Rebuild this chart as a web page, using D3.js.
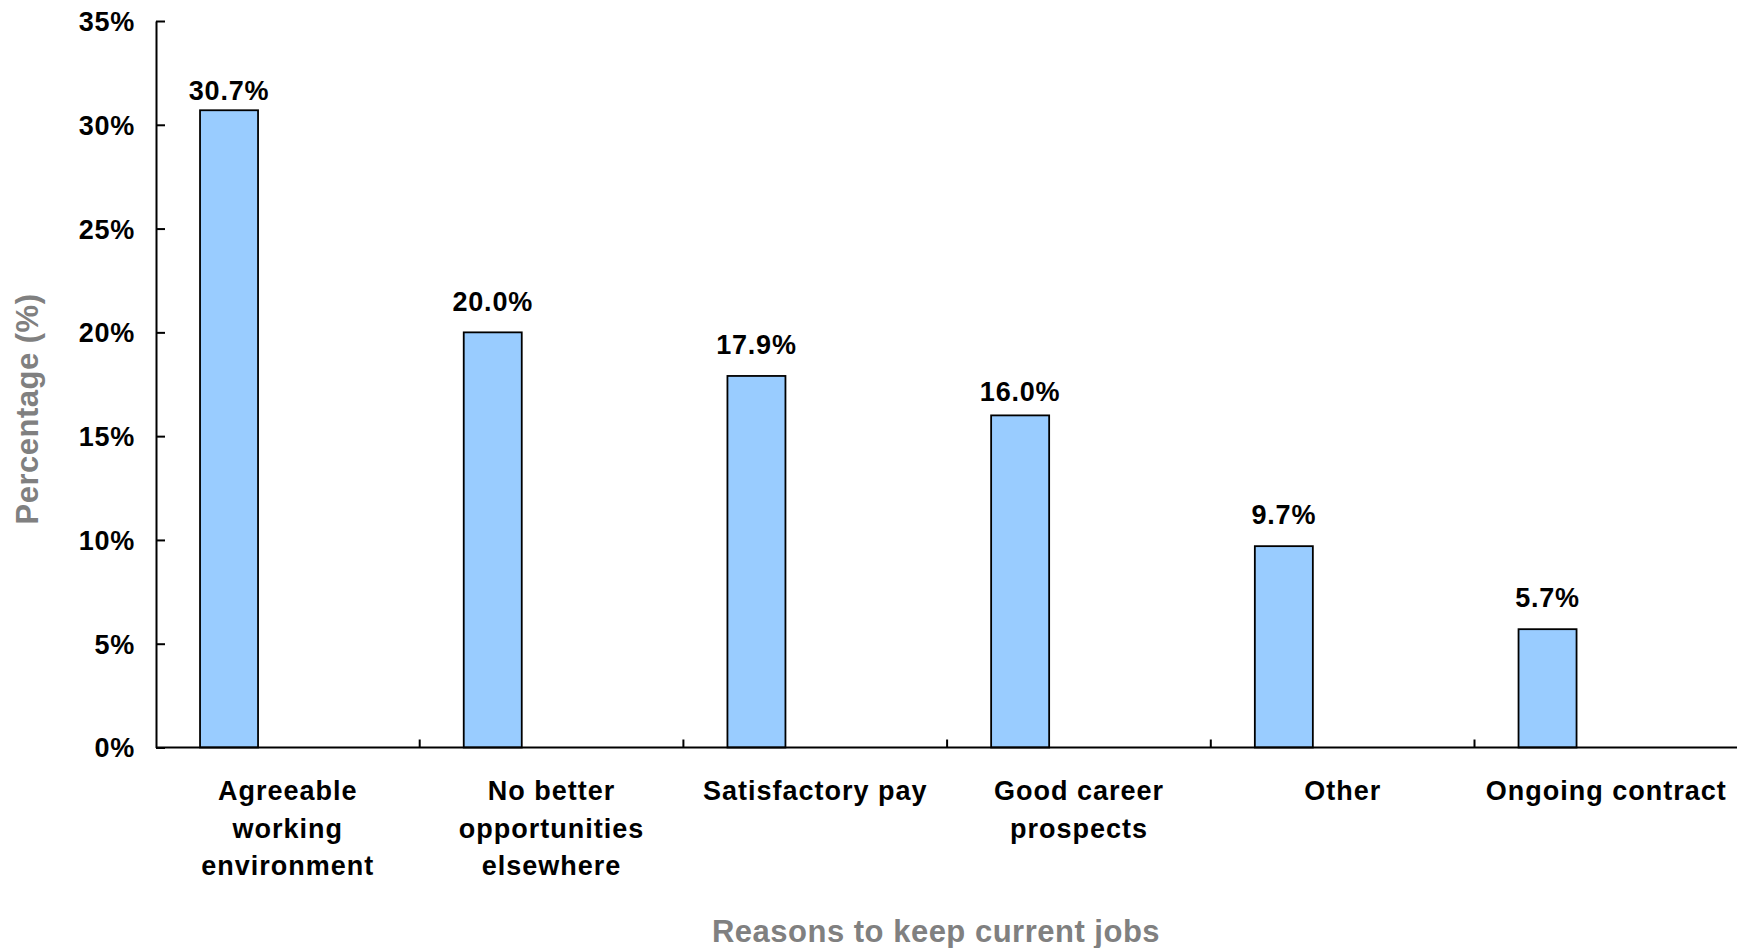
<!DOCTYPE html>
<html>
<head>
<meta charset="utf-8">
<script src="https://cdn.jsdelivr.net/npm/d3@7"></script>
<style>
    body { margin: 0; background: #fff; }
    #chart text { font-family: Arial, "Liberation Sans", sans-serif; font-weight: bold; }
</style>
</head>
<body>
<div id="chart"></div>
<script>
// chart data
const categories = [
    "Agreeable working environment",
    "No better opportunities elsewhere",
    "Satisfactory pay",
    "Good career prospects",
    "Other",
    "Ongoing contract"
];
const labelLines = [
    ["Agreeable", "working", "environment"],
    ["No better", "opportunities", "elsewhere"],
    ["Satisfactory pay"],
    ["Good career", "prospects"],
    ["Other"],
    ["Ongoing contract"]
];
const values = [30.7, 20.0, 17.9, 16.0, 9.7, 5.7];
const yTicks = [0, 5, 10, 15, 20, 25, 30, 35];

// gap between value label baseline and bar top (layout only)
const labelGap = [10, 21, 22, 14, 22, 22.5];

const width = 1737;
const height = 948;

const margin = { top: 21, right: 0, bottom: 200, left: 156 };
const baseY = 747.5;
const bandW = 263.7;

const svg = d3.select("#chart").append("svg")
    .attr("width", width)
    .attr("height", height);

const xScale = d3.scaleBand()
    .domain(categories)
    .range([margin.left, margin.left + bandW * categories.length])
    .padding(0);

const yScale = d3.scaleLinear()
    .domain([0, 35])
    .range([baseY, margin.top]);

// bars sit left of the category centre (as in the original)
const barOffset = xScale.bandwidth() * 0.167;
const barWidth = xScale.bandwidth() * 0.22;

svg.selectAll(".bar")
    .data(values)
    .enter()
    .append("rect")
    .attr("class", "bar")
    .attr("x", (d, i) => xScale(categories[i]) + barOffset)
    .attr("y", d => yScale(d))
    .attr("width", barWidth)
    .attr("height", d => baseY - yScale(d))
    .style("fill", "#99ccff")
    .style("stroke", "#000")
    .style("stroke-width", 1.8);

// value labels
svg.selectAll(".val")
    .data(values)
    .enter()
    .append("text")
    .attr("class", "val")
    .attr("x", (d, i) => xScale(categories[i]) + barOffset + barWidth / 2)
    .attr("y", (d, i) => yScale(d) - labelGap[i])
    .attr("text-anchor", "middle")
    .style("font-size", "27px")
    .style("letter-spacing", "0.8px")
    .style("fill", "#000")
    .text(d => d.toFixed(1) + "%");

// y axis
const yAxis = d3.axisLeft(yScale)
    .tickValues(yTicks)
    .tickSizeInner(-9)
    .tickSizeOuter(0)
    .tickPadding(21)
    .tickFormat(d => d + "%");

const yG = svg.append("g")
    .attr("transform", `translate(${margin.left},0)`)
    .call(yAxis);
yG.select(".domain").style("stroke", "#000").style("stroke-width", 2);
yG.selectAll(".tick line").style("stroke", "#000").style("stroke-width", 2);
yG.selectAll(".tick text")
    .style("font-size", "27px")
    .style("letter-spacing", "0.7px")
    .style("fill", "#000")
    .attr("dy", "0.35em");

// x axis baseline
svg.append("line")
    .attr("x1", margin.left)
    .attr("x2", width)
    .attr("y1", baseY)
    .attr("y2", baseY)
    .style("stroke", "#000")
    .style("stroke-width", 2);

// x ticks between categories, pointing up
svg.selectAll(".xtick")
    .data(categories.slice(1))
    .enter()
    .append("line")
    .attr("class", "xtick")
    .attr("x1", d => xScale(d))
    .attr("x2", d => xScale(d))
    .attr("y1", baseY)
    .attr("y2", baseY - 8)
    .style("stroke", "#000")
    .style("stroke-width", 2);

// category labels
const catLabels = svg.selectAll(".cat")
    .data(labelLines)
    .enter()
    .append("text")
    .attr("class", "cat")
    .attr("text-anchor", "middle")
    .style("font-size", "27px")
    .style("letter-spacing", "1px")
    .style("fill", "#000");

catLabels.selectAll("tspan")
    .data((d, i) => d.map(t => ({ t, i })))
    .enter()
    .append("tspan")
    .attr("x", d => xScale(categories[d.i]) + xScale.bandwidth() / 2)
    .attr("y", (d, j) => 800 + j * 37.6)
    .text(d => d.t);

// axis titles
svg.append("text")
    .attr("x", 936)
    .attr("y", 942)
    .attr("text-anchor", "middle")
    .style("font-size", "31px")
    .style("letter-spacing", "0.5px")
    .style("fill", "#808080")
    .text("Reasons to keep current jobs");

svg.append("text")
    .attr("transform", "translate(38,409) rotate(-90)")
    .attr("text-anchor", "middle")
    .style("font-size", "31px")
    .style("letter-spacing", "0.5px")
    .style("fill", "#808080")
    .text("Percentage (%)");
</script>
</body>
</html>
